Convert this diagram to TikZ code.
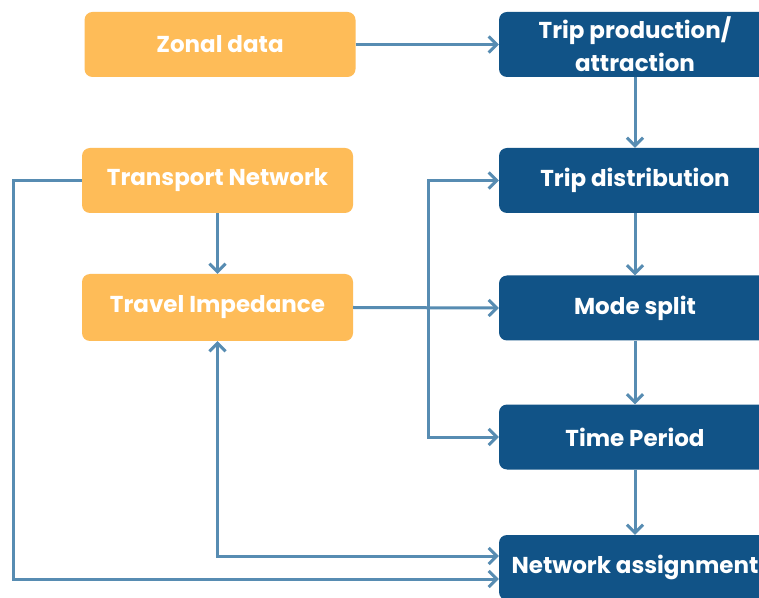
\documentclass[tikz,border=0pt]{standalone}
\usepackage{fontspec}
\setmainfont{Poppins}
\usetikzlibrary{arrows.meta}
\definecolor{boxorange}{RGB}{254,188,88}
\definecolor{boxblue}{RGB}{17,83,135}
\definecolor{linkblue}{RGB}{87,140,178}

\begin{document}
\begin{tikzpicture}[x=1pt, y=1pt,
		orange_style/.style={rectangle,rounded corners=8pt,fill=boxorange,text=white,
			minimum width=271pt,minimum height=65pt,font=\bfseries\fontsize{23}{33}\selectfont,align=center},
		blue_style/.style={rectangle,rounded corners=8pt,fill=boxblue,text=white,
			minimum width=272pt,minimum height=65pt,font=\bfseries\fontsize{23}{33}\selectfont,align=center},
		tip_style/.tip={Straight Barb[length=8pt,width=16pt]},
		edge_style/.style={draw=linkblue,line width=3pt,-tip_style}]
		
		\useasboundingbox[fill=white] (0,0) rectangle (759,597);
		
		\node[orange_style] (zonal) at (220,552.5) {Zonal data};
		\node[orange_style] (transport) at (217.5,416.5) {Transport Network};
		\node[orange_style,minimum height=67pt] (impedance) at (217.5,289.5) {Travel Impedance};
		
		\node[blue_style] (trip_prod) at (635,552.5) {Trip production/\\attraction};
		\node[blue_style] (trip_dist) at (635,416.5) {Trip distribution};
		\node[blue_style] (mode_split) at (635,289) {Mode split};
		\node[blue_style] (time_period) at (635,160) {Time Period};
		\node[blue_style] (net_assign) at (635,29.5) {Network assignment};
		
		\coordinate (split) at (428,289.5);
		
		\draw[edge_style]  (zonal.east) -- (trip_prod.west);
		\draw[edge_style]  (trip_prod) -- (trip_dist);
		\draw[edge_style]  (trip_dist) -- (mode_split);
		\draw[edge_style]  (mode_split) -- (time_period);
		\draw[edge_style]  (time_period) -- (net_assign);
		\draw[edge_style]  (transport) -- (impedance);
		\draw[edge_style]  (impedance.east) -- (mode_split.west);
		\draw[edge_style]  (split) |- (trip_dist.west);
		\draw[edge_style]  (split) |- (time_period.west);
		\draw[edge_style,tip_style-tip_style]  (impedance.south) |- ([yshift=11.5pt]net_assign.west);
		\draw[edge_style]  (transport.west) -- ++(-68,0) |- ([yshift=-11.5pt]net_assign.west);
		
\end{tikzpicture}
\end{document}
